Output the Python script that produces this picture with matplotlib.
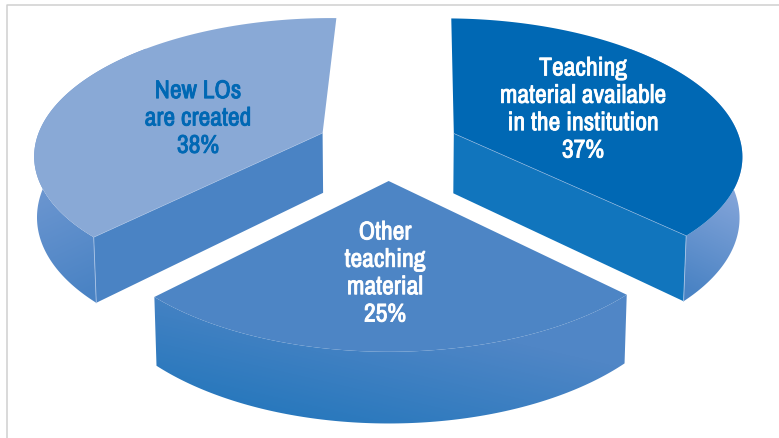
#!/usr/bin/env python3
"""Exploded perspective pie: where the teaching material comes from."""
import matplotlib
matplotlib.use("Agg")
import matplotlib.pyplot as plt
import matplotlib.colors as mcolors
import matplotlib.patheffects as pe
from matplotlib.patches import Polygon
import numpy as np

LABELS = ["Teaching\nmaterial available\nin the institution", "New LOs\nare created", "Other\nteaching\nmaterial"]
SHARES = [37, 38, 25]

START_ANGLE = -44.5

# camera, in canvas pixels per unit radius
CX, CY = 388, 146
SCALE_X, SCALE_Y = 288, 135
PERSPECTIVE = 0.144
DEPTH = 61
DEPTH_SHRINK = 0.008
EXPLODE_X, EXPLODE_Y = 0.25, 0.25

TOP_COLORS = ["#0068b4", "#89a9d6", "#4d85c5"]
CUT_COLORS = ["#1175bd", "#4a83c4", None]
# wall gradient: two colours, then the line on the canvas it runs along
WALL_STYLES = [
    ("#86a6da", "#4a83c4", (740, 190), (690, 290)),
    ("#7199d2", "#4a83c4", (40, 170), (95, 290)),
    ("#2577bc", "#5086c6", (300, 430), (330, 300)),
]
TEXT_COLORS = ["white", "#0068b4", "white"]
LABEL_POS = [(583, 109), (198, 118), (385, 273)]
WALL_SPAN = [(None, 45), (135, None), (None, None)]
FONTS = ["Archivo Narrow", "Fira Sans Condensed", "Liberation Sans"]


def project(x, y, z=0.0):
    w = 1 + PERSPECTIVE * y + DEPTH_SHRINK * z
    return CX + SCALE_X * x / w, CY - (SCALE_Y * y - DEPTH * z) / w


def arc(ox, oy, a0, a1, z=0.0):
    t = np.radians(np.linspace(a0, a1, 120))
    sx, sy = project(ox + np.cos(t), oy + np.sin(t), z)
    return np.column_stack([sx, sy])


def gradient_fill(ax, pts, c0, c1, p0, p1, zorder):
    # linear gradient clipped to a polygon
    xx, yy = np.meshgrid(np.arange(779) + 0.5, np.arange(438) + 0.5)
    dx, dy = p1[0] - p0[0], p1[1] - p0[1]
    t = np.clip(((xx - p0[0]) * dx + (yy - p0[1]) * dy) / (dx * dx + dy * dy), 0, 1)
    a, b = np.array(mcolors.to_rgb(c0)), np.array(mcolors.to_rgb(c1))
    img = a + (b - a) * t[..., None]
    poly = Polygon(pts, closed=True, facecolor="none", edgecolor="none", transform=ax.transData)
    ax.add_patch(poly)
    im = ax.imshow(img, extent=(0, 779, 438, 0), aspect="auto", zorder=zorder, interpolation="nearest")
    im.set_clip_path(poly)


fig = plt.figure(figsize=(7.79, 4.38), dpi=100)
ax = fig.add_axes([0, 0, 1, 1])
ax.set_xlim(0, 779)
ax.set_ylim(438, 0)
ax.axis("off")

# frame, only top and left
ax.plot([7, 7, 779], [438, 5, 5], color="#cfcfcf", lw=1.1, zorder=0)

angles = START_ANGLE + np.cumsum([0] + SHARES) * 3.6

for i in range(3):
    a0, a1 = angles[i], angles[i + 1]
    mid = np.radians((a0 + a1) / 2)
    ox, oy = EXPLODE_X * np.cos(mid), EXPLODE_Y * np.sin(mid)
    z = 10 + i * 10
    apex = np.array(project(ox, oy))

    # outer wall
    w0 = a0 if WALL_SPAN[i][0] is None else WALL_SPAN[i][0]
    w1 = a1 if WALL_SPAN[i][1] is None else WALL_SPAN[i][1]
    wall = np.vstack([arc(ox, oy, w0, w1), arc(ox, oy, w1, w0, 1.0)])
    c0, c1, p0, p1 = WALL_STYLES[i]
    gradient_fill(ax, wall, c0, c1, p0, p1, z)

    # the cut face that looks toward the viewer
    if CUT_COLORS[i] is not None:
        edge = np.radians(a0 if i == 0 else a1)
        rim = np.array(project(ox + np.cos(edge), oy + np.sin(edge)))
        rim_low = np.array(project(ox + np.cos(edge), oy + np.sin(edge), 1.0))
        apex_low = np.array(project(ox, oy, 1.0))
        ax.add_patch(Polygon([apex, rim, rim_low, apex_low], closed=True,
                             facecolor=CUT_COLORS[i], edgecolor="none", zorder=z + 1))
        ax.plot([rim[0], rim_low[0]], [rim[1], rim_low[1]], color="#a9c3e6", lw=0.6, zorder=z + 2)
        ax.plot([apex[0], rim[0]], [apex[1], rim[1]], color="#a9c3e6", lw=0.5, alpha=0.7, zorder=z + 3)

    top = np.vstack([apex, arc(ox, oy, a0, a1)])
    ax.add_patch(Polygon(top, closed=True, facecolor=TOP_COLORS[i], edgecolor="none", zorder=z + 2))

    # the narrow face only ships in regular, so thicken it with a stroke
    x, y = LABEL_POS[i]
    txt = ax.text(x, y, f"{LABELS[i]}\n{SHARES[i]}%", color=TEXT_COLORS[i], ha="center", va="center",
                  family=FONTS, fontsize=18.5, linespacing=1.23, zorder=50)
    txt.set_path_effects([pe.withStroke(linewidth=0.6, foreground=TEXT_COLORS[i])])

fig.savefig("out.png", dpi=100)
